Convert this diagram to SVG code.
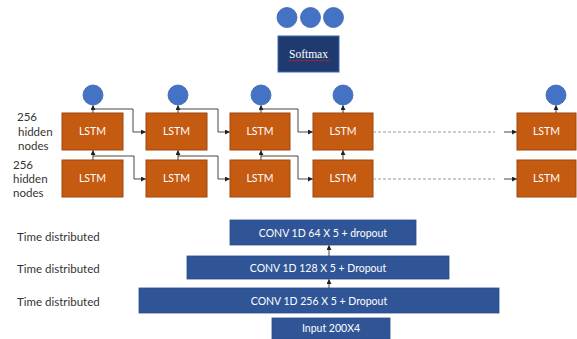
<svg xmlns="http://www.w3.org/2000/svg" width="577" height="339" viewBox="0 0 577 339">
<defs>
<marker id="ah" viewBox="0 0 6 6" refX="5.5" refY="3" markerWidth="5" markerHeight="5" orient="auto" markerUnits="userSpaceOnUse">
<path d="M0,0 L6,3 L0,6 Z" fill="#222"/>
</marker>
</defs>
<style>
.lstm{fill:#C55A11;stroke:#9E4710;stroke-width:1}
.lt{font-family:Lato,"Open Sans",sans-serif;font-size:10.5px;fill:#fff;text-anchor:middle}
.dot{fill:#4472C4;stroke:#3A64AE;stroke-width:0.8}
.conv{fill:#2F5597;stroke:#2A4C88;stroke-width:0.8}
.ct{font-family:Lato,"Open Sans",sans-serif;font-size:10.5px;fill:#fff;text-anchor:middle}
.lbl{font-family:Lato,"Open Sans",sans-serif;font-size:11.5px;fill:#333}
.c{fill:none;stroke:#333;stroke-width:0.9}
.d{fill:none;stroke:#999;stroke-width:1;stroke-dasharray:3,2}
</style>
<rect width="577" height="339" fill="#fff"/>

<g id="outputs">
<circle class="dot" cx="287" cy="17.5" r="10"/>
<circle class="dot" cx="310.5" cy="17.5" r="10"/>
<circle class="dot" cx="333.5" cy="17.5" r="10"/>
</g>
<g id="softmax">
<rect x="278" y="36" width="61" height="36" fill="#1F3A6E" stroke="#3C66B0" stroke-width="1"/>
<text x="308.5" y="58" font-family="'Liberation Serif',serif" font-size="11.5px" fill="#fff" text-anchor="middle">Softmax</text>
<path d="M288,60.5 q1,-1 2,0 t2,0 t2,0 t2,0 t2,0 t2,0 t2,0 t2,0 t2,0 t2,0 t2,0 t2,0 t2,0 t2,0 t2,0 t2,0 t2,0 t2,0 t2,0 t2,0 t2,0" fill="none" stroke="#D02020" stroke-width="0.7"/>
</g>

<g id="labels">
<text class="lbl" x="17" y="121">256</text>
<text class="lbl" x="18" y="135.5">hidden</text>
<text class="lbl" x="18" y="149.5">nodes</text>
<text class="lbl" x="13" y="169">256</text>
<text class="lbl" x="13" y="183">hidden</text>
<text class="lbl" x="13" y="197">nodes</text>
<text class="lbl" x="17" y="241">Time distributed</text>
<text class="lbl" x="17" y="273">Time distributed</text>
<text class="lbl" x="17" y="306">Time distributed</text>
</g>

<g id="lstm-top">
<g id="t1"><rect class="lstm" x="62" y="113" width="61" height="37"/><text class="lt" x="92.5" y="135">LSTM</text></g>
<g id="t2"><rect class="lstm" x="146" y="113" width="61" height="37"/><text class="lt" x="176.5" y="135">LSTM</text></g>
<g id="t3"><rect class="lstm" x="230" y="113" width="60" height="37"/><text class="lt" x="260" y="135">LSTM</text></g>
<g id="t4"><rect class="lstm" x="313" y="113" width="60" height="37"/><text class="lt" x="343" y="135">LSTM</text></g>
<g id="t5"><rect class="lstm" x="517" y="113" width="59" height="37"/><text class="lt" x="546.5" y="135">LSTM</text></g>
</g>
<g id="lstm-bottom">
<g id="b1"><rect class="lstm" x="62" y="160" width="61" height="37"/><text class="lt" x="92.5" y="182">LSTM</text></g>
<g id="b2"><rect class="lstm" x="146" y="160" width="61" height="37"/><text class="lt" x="176.5" y="182">LSTM</text></g>
<g id="b3"><rect class="lstm" x="230" y="160" width="60" height="37"/><text class="lt" x="260" y="182">LSTM</text></g>
<g id="b4"><rect class="lstm" x="313" y="160" width="60" height="37"/><text class="lt" x="343" y="182">LSTM</text></g>
<g id="b5"><rect class="lstm" x="517" y="160" width="59" height="37"/><text class="lt" x="546.5" y="182">LSTM</text></g>
</g>
<g id="lstm-outputs">
<circle class="dot" cx="93" cy="95" r="10"/>
<circle class="dot" cx="178" cy="95" r="10"/>
<circle class="dot" cx="261" cy="95" r="10"/>
<circle class="dot" cx="343" cy="95" r="10"/>
<circle class="dot" cx="556" cy="95" r="10"/>
</g>

<g id="conv">
<g id="conv64"><rect class="conv" x="230" y="220" width="186" height="25"/><text class="ct" x="323" y="236.5">CONV 1D 64 X 5 + dropout</text></g>
<g id="conv128"><rect class="conv" x="187" y="256" width="262" height="23"/><text class="ct" x="318" y="271.5">CONV 1D 128 X 5 + Dropout</text></g>
<g id="conv256"><rect class="conv" x="139" y="288" width="360" height="25"/><text class="ct" x="319" y="304.5">CONV 1D 256 X 5 + Dropout</text></g>
<g id="input"><rect class="conv" x="272" y="318" width="118" height="21"/><text class="ct" x="331" y="332">Input 200X4</text></g>
</g>

<g id="connectors">
<path class="c" d="M93,113 V105.5" marker-end="url(#ah)"/>
<path class="c" d="M178,113 V105.5" marker-end="url(#ah)"/>
<path class="c" d="M261,113 V105.5" marker-end="url(#ah)"/>
<path class="c" d="M343,113 V105.5" marker-end="url(#ah)"/>
<path class="c" d="M556,113 V105.5" marker-end="url(#ah)"/>
<path class="c" d="M93,160 V150.5" marker-end="url(#ah)"/>
<path class="c" d="M178,160 V150.5" marker-end="url(#ah)"/>
<path class="c" d="M261,160 V150.5" marker-end="url(#ah)"/>
<path class="c" d="M343,160 V150.5" marker-end="url(#ah)"/>
<path class="c" d="M93,109 H133 V132 H145.5" marker-end="url(#ah)"/>
<path class="c" d="M178,109 H218 V132 H229.5" marker-end="url(#ah)"/>
<path class="c" d="M261,109 H298 V132 H312.5" marker-end="url(#ah)"/>
<path class="c" d="M93,156 H134 V179 H145.5" marker-end="url(#ah)"/>
<path class="c" d="M178,156 H218 V179 H229.5" marker-end="url(#ah)"/>
<path class="c" d="M261,156 H298 V179 H312.5" marker-end="url(#ah)"/>
<path class="d" d="M373,132 H495"/>
<path class="d" d="M373,179 H495"/>
<path class="c" d="M504,132 H516.5" marker-end="url(#ah)"/>
<path class="c" d="M504,179 H516.5" marker-end="url(#ah)"/>
<path class="c" d="M329,256 V245.5" marker-end="url(#ah)"/>
<path class="c" d="M329,288 V279.5" marker-end="url(#ah)"/>
</g>
</svg>
